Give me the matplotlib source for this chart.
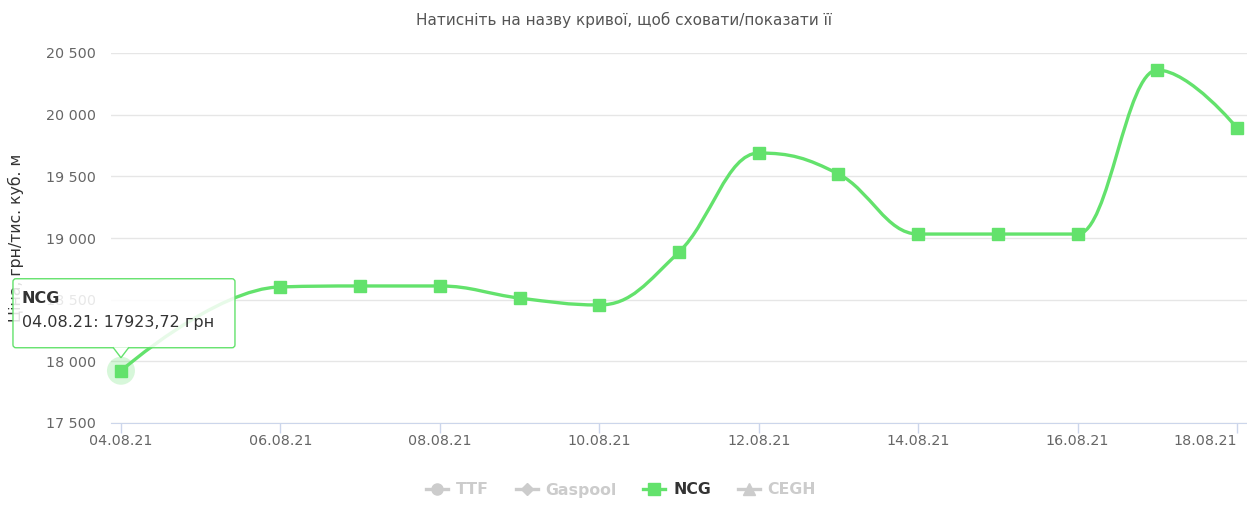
import matplotlib.pyplot as plt
import matplotlib.dates as mdates
from matplotlib.path import Path
from matplotlib.patches import PathPatch, FancyBboxPatch, Polygon, Circle
from matplotlib.lines import Line2D
from matplotlib.transforms import IdentityTransform, ScaledTranslation
import numpy as np
from datetime import datetime

# NCG price, UAH per thousand cubic metres (05.08.21 missing)
dates = ['04.08.21', '06.08.21', '07.08.21', '08.08.21', '09.08.21', '10.08.21', '11.08.21',
         '12.08.21', '13.08.21', '14.08.21', '15.08.21', '16.08.21', '17.08.21', '18.08.21']
ncg = [17923.72, 18603, 18611, 18611, 18513, 18457, 18886,
       19689, 19519, 19032, 19032, 19032, 20362, 19892]
tick_dates = ['04.08.21', '06.08.21', '08.08.21', '10.08.21', '12.08.21', '14.08.21', '16.08.21', '18.08.21']
legend_names = ['TTF', 'Gaspool', 'NCG', 'CEGH']

GREEN = '#63e26c'
x = mdates.date2num([datetime.strptime(d, '%d.%m.%y') for d in dates])
y = np.array(ncg, dtype=float)


def spline_path(x, y, smoothing=1.5):
    # same control points as a Highcharts spline
    n = len(x)
    lc = [None] * n
    rc = [None] * n
    denom = smoothing + 1
    for i in range(1, n - 1):
        px, py = x[i], y[i]
        lx, ly = x[i - 1], y[i - 1]
        nx_, ny = x[i + 1], y[i + 1]
        lcx = (smoothing * px + lx) / denom
        lcy = (smoothing * py + ly) / denom
        rcx = (smoothing * px + nx_) / denom
        rcy = (smoothing * py + ny) / denom
        corr = (rcy - lcy) * (rcx - px) / (rcx - lcx) + py - rcy
        lcy += corr
        rcy += corr
        if lcy > ly and lcy > py:
            lcy = max(ly, py); rcy = 2 * py - lcy
        elif lcy < ly and lcy < py:
            lcy = min(ly, py); rcy = 2 * py - lcy
        if rcy > ny and rcy > py:
            rcy = max(ny, py); lcy = 2 * py - rcy
        elif rcy < ny and rcy < py:
            rcy = min(ny, py); lcy = 2 * py - rcy
        lc[i] = (lcx, lcy)
        rc[i] = (rcx, rcy)
    verts = [(x[0], y[0])]
    codes = [Path.MOVETO]
    for i in range(1, n):
        c1 = rc[i - 1] if rc[i - 1] else (x[i - 1], y[i - 1])
        c2 = lc[i] if lc[i] else (x[i], y[i])
        verts += [c1, c2, (x[i], y[i])]
        codes += [Path.CURVE4] * 3
    return Path(verts, codes)


fig = plt.figure(figsize=(12.47, 5.05), dpi=100)
ax = fig.add_axes([111 / 1247, 82 / 505, 1136 / 1247, 370 / 505])

ax.add_patch(PathPatch(spline_path(x, y), facecolor='none', edgecolor=GREEN, lw=2.4,
                       capstyle='round', joinstyle='round', zorder=3))
ax.plot(x, y, ls='none', marker='s', ms=8.5, color=GREEN, zorder=4)

ax.set_xlim(x[0] - 0.125, x[-1] + 0.125)
ax.set_ylim(17500, 20500)
ax.set_yticks(np.arange(17500, 20501, 500))
ax.set_yticklabels([f'{v:,}'.replace(',', ' ') for v in range(17500, 20501, 500)])
tick_x = mdates.date2num([datetime.strptime(d, '%d.%m.%y') for d in tick_dates])
ax.set_xticks(tick_x)
ax.set_xticklabels(tick_dates)
ax.tick_params(axis='x', colors='#ccd6eb', length=7, width=1, labelcolor='#666666',
               labelsize=10.3, pad=1)
ax.tick_params(axis='y', length=0, labelcolor='#666666', labelsize=10.3, pad=11)
ax.get_xticklabels()[-1].set_ha('right')
ax.grid(axis='y', color='#e6e6e6', lw=1)
ax.set_axisbelow(True)
for s in ['top', 'right', 'left']:
    ax.spines[s].set_visible(False)
ax.spines['bottom'].set_color('#ccd6eb')
ax.set_ylabel('Ціна, грн/тис. куб. м', fontsize=11.3, color='#333333')
ax.yaxis.set_label_coords((24 - 111) / 1136, 0.5)

fig.text(0.5, 1 - 20 / 505, 'Натисніть на назву кривої, щоб сховати/показати її',
         ha='center', va='center', fontsize=11, color='#555555')

# hovered point with tooltip, offsets in pixels from the first point
tip = IdentityTransform() + ScaledTranslation(x[0], y[0], ax.transData)
ax.add_patch(Circle((0, 0), 14, transform=tip, facecolor=GREEN, alpha=0.25,
                    edgecolor='none', zorder=2, clip_on=False))
ax.add_patch(FancyBboxPatch((-108, 23), 222, 69, boxstyle='round,pad=0,rounding_size=3',
                            transform=tip, facecolor='white', alpha=0.85, edgecolor='none',
                            zorder=9, clip_on=False))
ax.add_patch(FancyBboxPatch((-108, 23), 222, 69, boxstyle='round,pad=0,rounding_size=3',
                            transform=tip, facecolor='none', edgecolor=GREEN, lw=1,
                            zorder=10, clip_on=False))
ax.add_patch(Polygon([(-8, 23.5), (0, 13), (8, 23.5)], closed=False, transform=tip,
                     facecolor='white', edgecolor=GREEN, lw=1, zorder=10, clip_on=False))
ax.text(-99, 72, 'NCG', transform=tip, fontsize=11.5, fontweight='bold', color='#333333',
        va='center', ha='left', zorder=11, clip_on=False)
ax.text(-99, 48, f'{dates[0]}: ' + f'{ncg[0]:.2f}'.replace('.', ',') + ' грн',
        transform=tip, fontsize=11.5, color='#333333', va='center', ha='left', zorder=11, clip_on=False)

markers = {'TTF': 'o', 'Gaspool': 'D', 'NCG': 's', 'CEGH': '^'}
handles = []
for name in legend_names:
    c = GREEN if name == 'NCG' else '#cccccc'
    handles.append(Line2D([], [], color=c, lw=2.4, marker=markers[name],
                          ms=8 if name != 'Gaspool' else 6))
leg = fig.legend(handles, legend_names, loc='center', bbox_to_anchor=(621 / 1247, 1 - 490 / 505),
                 ncol=4, frameon=False, handlelength=1.4, columnspacing=1.7, handletextpad=0.5,
                 prop={'weight': 'bold', 'size': 11.3})
for t, name in zip(leg.get_texts(), legend_names):
    t.set_color('#333333' if name == 'NCG' else '#cccccc')

fig.savefig('out.png', dpi=100)
